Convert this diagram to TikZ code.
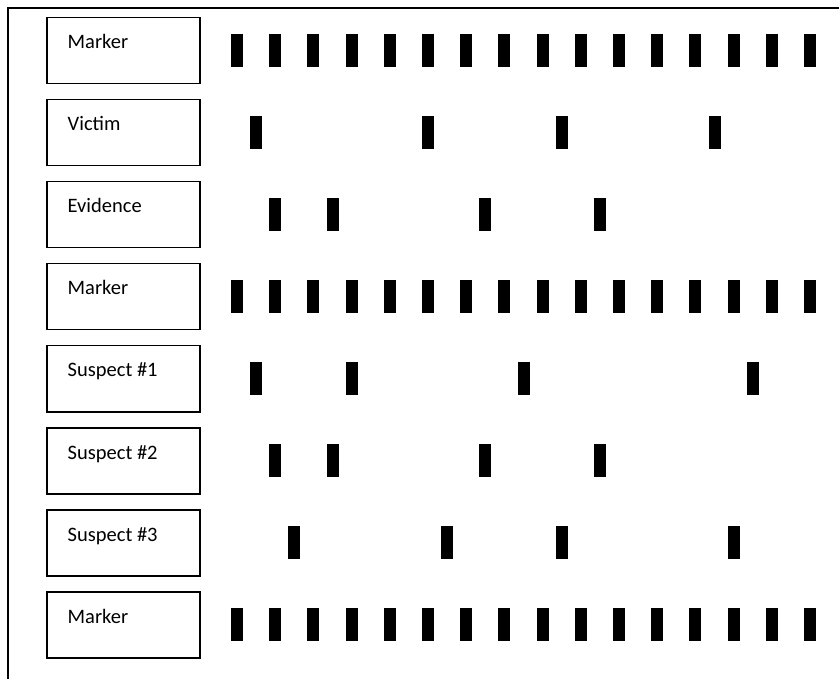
\documentclass[tikz,border=0pt]{standalone}
\usepackage{fontspec}
\setmainfont{Carlito}
\usetikzlibrary{positioning}

\begin{document}
\begin{tikzpicture}[
  x=1pt, y=-1pt,
  lane/.style={rectangle, draw=black, line width=1.5pt, inner sep=0pt,
               minimum width=153pt, minimum height=66pt, anchor=north west},
  lanetxt/.style={anchor=base west, inner sep=0pt,
                  font=\fontsize{20.5}{24}\selectfont},
  band/.style={fill=black}
]
\useasboundingbox (0,0) rectangle (839,679);

% Outer frame (open at right and bottom)
\draw[line width=1.5pt] (8,681) -- (8,8) -- (841,8);

% Lane label boxes
\node[lane] (marktop)  at (46,17)  {};
\node[lane] (victim)   at (46,99)  {};
\node[lane] (evidence) at (46,181) {};
\node[lane] (markmid)  at (46,263) {};
\node[lane] (susp1)    at (46,345) {};
\node[lane] (susp2)    at (46,427) {};
\node[lane] (susp3)    at (46,509) {};
\node[lane] (markbot)  at (46,591) {};

% Lane labels
\foreach \lane/\txt in {marktop/Marker, victim/Victim, evidence/Evidence,
                        markmid/Marker, susp1/Suspect \#1, susp2/Suspect \#2,
                        susp3/Suspect \#3, markbot/Marker}
  \node[lanetxt] (\lane-txt) at ([xshift=21.5pt, yshift=-32pt]\lane.north west) {\txt};

% Marker ladders
\foreach \lane in {marktop, markmid, markbot}
  \foreach \k in {0,...,15}
    \fill[band] ([xshift={185+38.2*\k}, yshift=16.5]\lane.west) rectangle ++(12,33);

% Sample bands (positions in marker steps)
\foreach \lane/\steps in {victim/{0.5,5,8.5,12.5},
                          evidence/{1,2.5,6.5,9.5},
                          susp1/{0.5,3,7.5,13.5},
                          susp2/{1,2.5,6.5,9.5},
                          susp3/{1.5,5.5,8.5,13}}
  \foreach \k in \steps
    \fill[band] ([xshift={185+38.2*\k}, yshift=16.5]\lane.west) rectangle ++(12,33);

\end{tikzpicture}
\end{document}
